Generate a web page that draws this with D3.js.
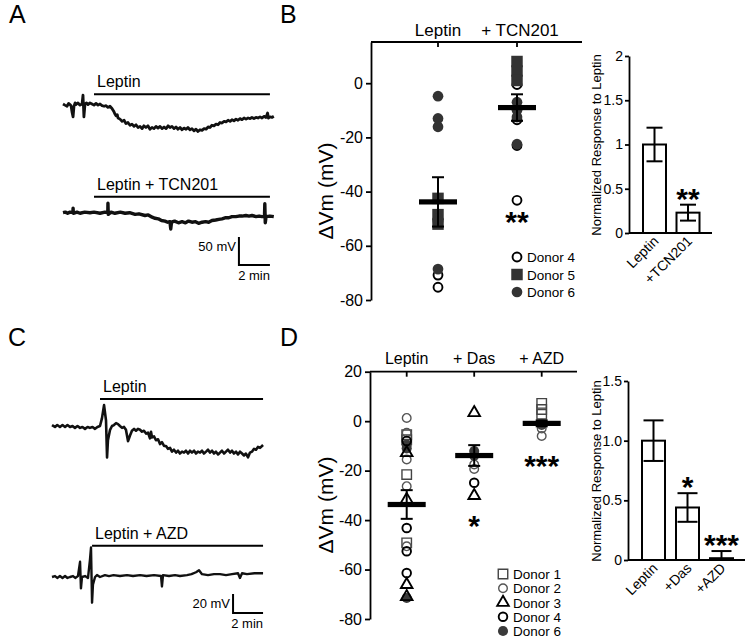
<!DOCTYPE html>
<html>
<head>
<meta charset="utf-8">
<script src="https://cdn.jsdelivr.net/npm/d3@7"></script>
<style>
  body { margin: 0; background: #fff; }
  svg { display: block; font-family: Arial, "Liberation Sans", Helvetica, sans-serif; }
</style>
</head>
<body>
<svg id="fig" width="745" height="638"></svg>
<script>
// ---- traces (time in min, membrane potential change in mV)
const traceA1 = [[0,0],[0.12,-2],[0.26,-4],[0.36,1],[0.45,-1],[0.52,-3],[0.58,-14],[0.65,-23],[0.71,-4],[0.78,2],[0.84,-1],[0.95,2],
  [1.1,-2],[1.23,0],[1.29,16],[1.35,-23],[1.42,0],[1.52,2],[1.61,-1],[1.74,2],[1.87,0],[2.0,-2],[2.13,1],[2.26,-2],[2.39,0],[2.52,-3],
  [2.65,-4],[2.78,-3],[2.9,-6],[3.03,-4],[3.16,-8],[3.29,-14],[3.35,-18],[3.42,-21],[3.5,-19],[3.55,-25],[3.68,-27],[3.81,-31],
  [3.94,-29],[4.06,-35],[4.19,-33],[4.32,-38],[4.45,-36],[4.58,-40],[4.71,-37],[4.84,-42],[4.97,-40],[5.1,-44],[5.22,-39],[5.35,-42],
  [5.48,-39],[5.61,-45],[5.74,-42],[5.87,-44],[6.0,-40],[6.13,-43],[6.26,-40],[6.39,-44],[6.52,-41],[6.65,-44],[6.78,-39],[6.9,-42],
  [7.03,-40],[7.16,-44],[7.29,-41],[7.42,-45],[7.55,-42],[7.68,-46],[7.81,-43],[7.94,-45],[8.06,-42],[8.19,-46],[8.32,-44],[8.45,-48],
  [8.58,-45],[8.71,-49],[8.84,-46],[8.97,-47],[9.1,-44],[9.23,-45],[9.36,-41],[9.48,-42],[9.61,-38],[9.74,-39],[9.87,-36],[10.0,-37],
  [10.13,-33],[10.26,-34],[10.39,-31],[10.52,-32],[10.65,-29],[10.78,-31],[10.9,-28],[11.03,-30],[11.16,-27],[11.29,-29],[11.42,-26],
  [11.55,-28],[11.68,-25],[11.81,-27],[11.94,-25],[12.07,-26],[12.19,-24],[12.32,-26],[12.45,-24],[12.58,-25],[12.71,-23],[12.84,-25],
  [12.97,-22],[13.1,-24],[13.2,-16],[13.25,-25],[13.35,-23],[13.48,-24],[13.6,-22]];
const traceA2 = [[0,0],[0.15,1],[0.3,-1],[0.45,1],[0.64,0],[0.65,8],[0.67,-1],[0.9,1],[1.1,-1],[1.4,1],[1.74,0],[2.0,1],[2.39,-1],
  [2.7,1],[2.89,0],[2.9,17],[2.92,-3],[3.1,1],[3.35,-1],[3.7,1],[4,-1],[4.3,0],[4.65,-3],[4.9,-2],[5.29,-5],[5.5,-4],[5.75,-8],
  [5.94,-10],[6.15,-11],[6.35,-14],[6.58,-15],[6.75,-17],[6.9,-16],[6.95,-29],[7.0,-17],[7.2,-15],[7.45,-18],[7.68,-16],[7.9,-18],
  [8.1,-15],[8.32,-17],[8.55,-16],[8.75,-19],[8.97,-17],[9.2,-16],[9.4,-17],[9.61,-14],[9.85,-13],[10.05,-12],[10.26,-11],[10.5,-9],
  [10.7,-9],[10.9,-7],[11.15,-7],[11.35,-6],[11.55,-6],[11.8,-5],[12.0,-6],[12.19,-5],[12.45,-7],[12.65,-6],[12.84,-7],[13.0,-6],
  [13.02,16],[13.05,-18],[13.1,-7],[13.35,-6],[13.6,-7]];
const traceC1 = [[0,1],[0.2,-1],[0.35,1],[0.53,-1],[0.7,1],[0.87,-1],[1.03,1],[1.2,-1],[1.37,0],[1.53,-2],[1.7,0],[1.87,-2],[2.03,-1],
  [2.2,-3],[2.37,-1],[2.53,-2],[2.7,-1],[2.87,-3],[3.03,-1],[3.2,0],[3.33,8],[3.47,22],[3.6,6],[3.67,-33],[3.73,-15],[3.87,-4],[4.0,0],
  [4.13,1],[4.27,3],[4.4,2],[4.53,0],[4.67,-2],[4.8,-1],[4.93,-4],[5.07,-16],[5.2,-10],[5.33,-5],[5.47,-3],[5.6,-5],[5.73,-3],[5.87,-4],
  [6.0,-6],[6.13,-5],[6.27,-8],[6.4,-7],[6.53,-13],[6.6,-6],[6.67,-12],[6.8,-11],[6.93,-15],[7.07,-14],[7.2,-19],[7.33,-17],[7.47,-21],
  [7.6,-21],[7.73,-24],[7.87,-23],[8,-27],[8.13,-25],[8.27,-28],[8.4,-26],[8.53,-29],[8.67,-27],[8.8,-28],[8.93,-26],[9.07,-29],
  [9.2,-26],[9.33,-28],[9.47,-26],[9.6,-29],[9.73,-27],[9.87,-28],[10,-26],[10.13,-29],[10.27,-27],[10.4,-25],[10.53,-28],[10.67,-26],
  [10.8,-29],[10.93,-27],[11.07,-30],[11.2,-28],[11.33,-26],[11.47,-29],[11.6,-27],[11.73,-25],[11.87,-28],[12,-26],[12.13,-29],
  [12.27,-27],[12.4,-30],[12.53,-27],[12.67,-29],[12.8,-31],[12.93,-29],[13.07,-33],[13.2,-28],[13.33,-27],[13.47,-24],[13.6,-25],
  [13.73,-22],[13.87,-23],[14.07,-20]];
const traceC2 = [[0,0],[0.2,1],[0.35,-1],[0.53,1],[0.7,-1],[0.87,1],[1.03,-1],[1.2,0],[1.4,1],[1.55,-1],[1.73,1],[1.87,16],[1.93,-12],
  [2,0],[2.2,1],[2.4,-1],[2.53,18],[2.6,31],[2.67,-27],[2.73,-8],[2.87,0],[3.0,2],[3.2,0],[3.53,2],[3.8,1],[4.1,2],[4.53,1],[5.0,2],
  [5.4,1],[5.87,2],[6.3,1],[6.8,2],[7.27,1],[7.33,-10],[7.4,2],[7.8,1],[8.2,2],[8.53,1],[9.0,2],[9.3,3],[9.6,5],[9.8,7],[10,3],[10.4,2],
  [10.8,3],[11.2,3],[11.6,2],[12.0,3],[12.4,4],[12.53,-1],[12.67,4],[13.0,3],[13.5,4],[14.07,4]];
const labelsA = ['Leptin', 'Leptin + TCN201'];
const labelsC = ['Leptin', 'Leptin + AZD'];
const drugA = [[2.0, 13.35], [2.0, 13.35]];   // drug application window, min
const drugC = [[3.2, 14.07], [2.67, 14.07]];
const scaleBarA = { mv: 50, min: 2 };
const scaleBarC = { mv: 20, min: 2 };

// ---- panel B scatter (mV)
const groupsB = ['Leptin', '+ TCN201'];
const donorsB = ['Donor 4', 'Donor 5', 'Donor 6'];
const donor4B = [[-70.8, -75.3], [-0.5, -13.5, -23, -43.2]];
const donor5B = [[-42.5, -48.5, -52], [8, 4.5, 1]];
const donor6B = [[-4.8, -13, -16.1, -50, -51, -68.6], [-7, -10, -12.5, -22.5]];
const meanB = [-43.8, -9];
const semB = [9.1, 4.9];
const sigB = ['', '**'];
const ticksB = [0, -20, -40, -60, -80];

// ---- panel B bars (normalized)
const barGroupsB = ['Leptin', '+TCN201'];
const barMeanB = [1, 0.23];
const barErrB = [0.19, 0.09];
const barSigB = ['', '**'];
const barTicksB = [0, 0.5, 1, 1.5, 2];

// ---- panel D scatter (mV)
const groupsD = ['Leptin', '+ Das', '+ AZD'];
const donorsD = ['Donor 1', 'Donor 2', 'Donor 3', 'Donor 4', 'Donor 6'];
const donor1D = [[-5.5, -7.5, -21.6, -49.2], [], [7.2, 4.7, 2.8]];
const donor2D = [[1.3, -4.7, -15.5, -26.3, -50.6], [-17.5, -19.3], [-1, -3, -6]];
const donor3D = [[-12.8, -31.7, -66.1, -71], [3.4, -30.1], []];
const donor4D = [[-8, -43.2, -52.6, -61.4], [-24.9], []];
const donor6D = [[-9.5, -11, -71.5], [-12.1, -14], [-1.5]];
const meanD = [-33.7, -13.9, -0.9];
const semD = [5.8, 4.2, 1.2];
const sigD = ['', '*', '***'];
const ticksD = [20, 0, -20, -40, -60, -80];

// ---- panel D bars (normalized)
const barGroupsD = ['Leptin', '+Das', '+AZD'];
const barMeanD = [1, 0.44, 0.015];
const barErrD = [0.17, 0.12, 0.06];
const barSigD = ['', '*', '***'];
const barTicksD = [0, 0.5, 1.0, 1.5];

const svg = d3.select('#fig');
const ink = '#000';

function letter(t, x, y) {
  svg.append('text').attr('x', x).attr('y', y).attr('font-size', 25).text(t);
}

function styleAxis(g, fs) {
  g.attr('font-family', null).attr('font-size', null);
  g.selectAll('path, line').attr('stroke', ink).attr('stroke-width', 1.8);
  g.selectAll('text').attr('font-size', fs).attr('fill', ink);
}

// ---------- traces ----------
function tracePanel(traces, labels, drug, bar, xs, ys, mvScale, widths, sb) {
  traces.forEach((tr, i) => {
    const y = ys[i];
    svg.append('path').datum(tr)
      .attr('d', d3.line().x(d => xs(d[0])).y(d => y(d[1])))
      .attr('fill', 'none').attr('stroke', '#111')
      .attr('stroke-width', widths[i]).attr('stroke-linejoin', 'round');
    const by = y(0) - bar.dy[i];
    svg.append('line')
      .attr('x1', xs(drug[i][0])).attr('x2', xs(drug[i][1]))
      .attr('y1', by).attr('y2', by)
      .attr('stroke', ink).attr('stroke-width', 2);
    svg.append('text').attr('x', xs(drug[i][0]) + 3).attr('y', by - 7)
      .attr('font-size', 16).text(labels[i]);
  });
  // scale bar
  const x1 = xs(drug[1][1]), x0 = x1 - (xs(sb.min) - xs(0));
  const yb = sb.y, yt = yb - (mvScale(0) - mvScale(sb.mv));
  svg.append('path')
    .attr('d', `M${x0},${yt}V${yb}H${x1}`)
    .attr('fill', 'none').attr('stroke', ink).attr('stroke-width', 2);
  svg.append('text').attr('x', x0 - 3).attr('y', yt + 14).attr('text-anchor', 'end')
    .attr('font-size', 13).text(sb.mv + ' mV');
  svg.append('text').attr('x', x1).attr('y', yb + 15).attr('text-anchor', 'end')
    .attr('font-size', 13).text(sb.min + ' min');
}

const xA = d3.scaleLinear().domain([0, 1]).range([63, 78.5]);
const yA1 = d3.scaleLinear().domain([0, 50]).range([104, 76]);
const yA2 = d3.scaleLinear().domain([0, 50]).range([212.7, 184.7]);
tracePanel([traceA1, traceA2], labelsA, drugA, { dy: [9.7, 16] }, xA, [yA1, yA2], yA1,
  [2.8, 3.4], { ...scaleBarA, y: 265 });

const xC = d3.scaleLinear().domain([0, 1]).range([52, 67]);
const yC1 = d3.scaleLinear().domain([0, 20]).range([426, 407]);
const yC2 = d3.scaleLinear().domain([0, 20]).range([577, 558]);
tracePanel([traceC1, traceC2], labelsC, drugC, { dy: [27, 31.3] }, xC, [yC1, yC2], yC1,
  [2.6, 2.4], { ...scaleBarC, y: 613 });

// ---------- scatter panels ----------
const markers = {
  'B:Donor 4': { shape: d3.symbolCircle, size: 62, fill: '#fff', stroke: ink, sw: 1.9 },
  'B:Donor 5': { shape: d3.symbolSquare, size: 132, fill: '#333', stroke: 'none', sw: 0 },
  'B:Donor 6': { shape: d3.symbolCircle, size: 90, fill: '#333', stroke: 'none', sw: 0 },
  'D:Donor 1': { shape: d3.symbolSquare, size: 90, fill: 'none', stroke: '#444', sw: 1.4 },
  'D:Donor 2': { shape: d3.symbolCircle, size: 58, fill: 'none', stroke: '#555', sw: 1.4 },
  'D:Donor 3': { shape: d3.symbolTriangle, size: 58, fill: 'none', stroke: ink, sw: 1.9 },
  'D:Donor 4': { shape: d3.symbolCircle, size: 58, fill: 'none', stroke: ink, sw: 1.9 },
  'D:Donor 6': { shape: d3.symbolCircle, size: 80, fill: '#3a3a3a', stroke: 'none', sw: 0 }
};

function marker(sel, key) {
  const m = markers[key];
  sel.attr('d', d3.symbol(m.shape, m.size)())
    .attr('fill', m.fill).attr('stroke', m.stroke).attr('stroke-width', m.sw);
}

function scatterPanel(p) {
  const g = svg.append('g');
  const y = p.y, x = p.x;
  const ax = g.append('g').attr('transform', `translate(${p.axisX},0)`)
    .call(d3.axisLeft(y).tickValues(p.ticks).tickSize(5).tickSizeOuter(0).tickPadding(3)
      .tickFormat(d => String(d)));
  styleAxis(ax, 16);
  const topY = y.range()[1];
  g.append('line').attr('x1', p.axisX).attr('x2', p.axisEnd).attr('y1', topY).attr('y2', topY)
    .attr('stroke', ink).attr('stroke-width', 1.8);
  g.selectAll('.ct').data(p.groups).join('line')
    .attr('x1', d => x(d)).attr('x2', d => x(d)).attr('y1', topY).attr('y2', topY + 5)
    .attr('stroke', ink).attr('stroke-width', 1.8);
  g.selectAll('.cl').data(p.groups).join('text')
    .attr('x', (d, i) => x(d) + (p.labelShift[i] || 0)).attr('y', topY - p.labelGap)
    .attr('text-anchor', 'middle').attr('font-size', p.labelSize).text(d => d);
  g.append('text').attr('transform', `translate(333,${p.titleY}) rotate(-90)`)
    .attr('text-anchor', 'middle').attr('font-size', 21).text('ΔVm (mV)');

  // points, open markers first so filled ones sit on top
  p.order.forEach(di => {
    const donor = p.donors[di];
    const pts = [];
    p.values[di].forEach((vals, gi) => vals.forEach(v => pts.push({ g: p.groups[gi], v })));
    g.append('g').selectAll('path').data(pts).join('path')
      .attr('transform', d => `translate(${x(d.g)},${y(d.v)})`)
      .call(marker, p.key + ':' + donor);
  });

  // mean +/- SEM
  p.groups.forEach((grp, i) => {
    const cx = x(grp);
    g.append('line').attr('x1', cx).attr('x2', cx)
      .attr('y1', y(p.mean[i] + p.sem[i])).attr('y2', y(p.mean[i] - p.sem[i]))
      .attr('stroke', ink).attr('stroke-width', 2);
    [p.mean[i] + p.sem[i], p.mean[i] - p.sem[i]].forEach(v => {
      g.append('line').attr('x1', cx - 6).attr('x2', cx + 6).attr('y1', y(v)).attr('y2', y(v))
        .attr('stroke', ink).attr('stroke-width', 2);
    });
    g.append('rect').attr('x', cx - 19).attr('y', y(p.mean[i]) - 2.6)
      .attr('width', 38).attr('height', 5.2).attr('fill', ink);
    if (p.sig[i]) {
      let lo = Infinity;
      p.values.forEach(arr => arr[i].forEach(v => { lo = Math.min(lo, v); }));
      g.append('text').attr('x', cx).attr('y', y(lo) + p.sigGap)
        .attr('text-anchor', 'middle').attr('font-size', 30).attr('font-weight', 'bold')
        .text(p.sig[i]);
    }
  });

  // legend
  const ly = d3.scalePoint().domain(p.donors).range(p.legendY);
  p.donors.forEach(d => {
    g.append('path').attr('transform', `translate(${p.legendX},${ly(d)})`)
      .call(marker, p.key + ':' + d);
    g.append('text').attr('x', p.legendX + 10).attr('y', ly(d) + 5)
      .attr('font-size', 13.5).text(d);
  });
}

scatterPanel({
  key: 'B', groups: groupsB, donors: donorsB, values: [donor4B, donor5B, donor6B], order: [0, 1, 2],
  mean: meanB, sem: semB, sig: sigB, ticks: ticksB,
  y: d3.scaleLinear().domain([-80, 15.2]).range([300, 42]),
  x: d3.scalePoint().domain(groupsB).range([438, 517]),
  axisX: 371, axisEnd: 582, labelGap: 6, labelSize: 17, labelShift: [0, 3], titleY: 191,
  sigGap: 32, legendX: 517, legendY: [257, 292]
});

scatterPanel({
  key: 'D', groups: groupsD, donors: donorsD, values: [donor1D, donor2D, donor3D, donor4D, donor6D],
  order: [4, 0, 1, 2, 3],
  mean: meanD, sem: semD, sig: sigD, ticks: ticksD,
  y: d3.scaleLinear().domain([-80, 20]).range([619, 371.7]),
  x: d3.scalePoint().domain(groupsD).range([406.7, 541.7]),
  axisX: 370, axisEnd: 577, labelGap: 8, labelSize: 16, labelShift: [0, 0, 0], titleY: 505,
  sigGap: 40, legendX: 503, legendY: [574, 631]
});

// ---------- bar panels ----------
function barPanel(p) {
  const g = svg.append('g');
  const y = p.y, x = p.x;
  const base = y(0);
  const ax = g.append('g').attr('transform', `translate(${p.axisX},0)`)
    .call(d3.axisLeft(y).tickValues(p.ticks).tickSize(4).tickSizeOuter(0).tickPadding(2)
      .tickFormat(p.fmt));
  styleAxis(ax, 14);
  g.append('line').attr('x1', p.axisX).attr('x2', p.axisEnd).attr('y1', base).attr('y2', base)
    .attr('stroke', ink).attr('stroke-width', 2);
  g.selectAll('rect').data(p.groups).join('rect')
    .attr('x', d => x(d) - 11.5).attr('width', 23)
    .attr('y', (d, i) => y(p.mean[i])).attr('height', (d, i) => base - y(p.mean[i]))
    .attr('fill', '#fff').attr('stroke', ink).attr('stroke-width', 2);
  p.groups.forEach((grp, i) => {
    const cx = x(grp);
    const hi = p.mean[i] + p.err[i], lo = Math.max(0, p.mean[i] - p.err[i]);
    g.append('line').attr('x1', cx).attr('x2', cx).attr('y1', y(hi)).attr('y2', y(lo))
      .attr('stroke', ink).attr('stroke-width', 2);
    [hi, lo].forEach(v => {
      if (v <= 0) return;
      g.append('line').attr('x1', cx - p.cap).attr('x2', cx + p.cap).attr('y1', y(v)).attr('y2', y(v))
        .attr('stroke', ink).attr('stroke-width', 2);
    });
    if (p.sig[i]) {
      g.append('text').attr('x', cx).attr('y', y(hi) + 4)
        .attr('text-anchor', 'middle').attr('font-size', 30).attr('font-weight', 'bold')
        .text(p.sig[i]);
    }
    g.append('text').attr('transform', `translate(${cx + 5},${base + 9}) rotate(-45)`)
      .attr('text-anchor', 'end').attr('font-size', 14).text(grp);
  });
  g.append('text').attr('transform', `translate(601,${p.titleY}) rotate(-90)`)
    .attr('text-anchor', 'middle').attr('font-size', 13).text('Normalized Response to Leptin');
}

barPanel({
  groups: barGroupsB, mean: barMeanB, err: barErrB, sig: barSigB, ticks: barTicksB,
  y: d3.scaleLinear().domain([0, 2]).range([233, 56]),
  x: d3.scalePoint().domain(barGroupsB).range([654.5, 688]),
  axisX: 629, axisEnd: 712, cap: 8, titleY: 145, fmt: d => String(d)
});

barPanel({
  groups: barGroupsD, mean: barMeanD, err: barErrD, sig: barSigD, ticks: barTicksD,
  y: d3.scaleLinear().domain([0, 1.5]).range([560, 381]),
  x: d3.scalePoint().domain(barGroupsD).range([653.5, 721.5]),
  axisX: 628, axisEnd: 745, cap: 10, titleY: 471, fmt: d => (d === 0 ? '0' : d3.format('.1f')(d))
});

letter('A', 9, 23);
letter('B', 280, 23);
letter('C', 8, 346);
letter('D', 280, 346);
</script>
</body>
</html>
